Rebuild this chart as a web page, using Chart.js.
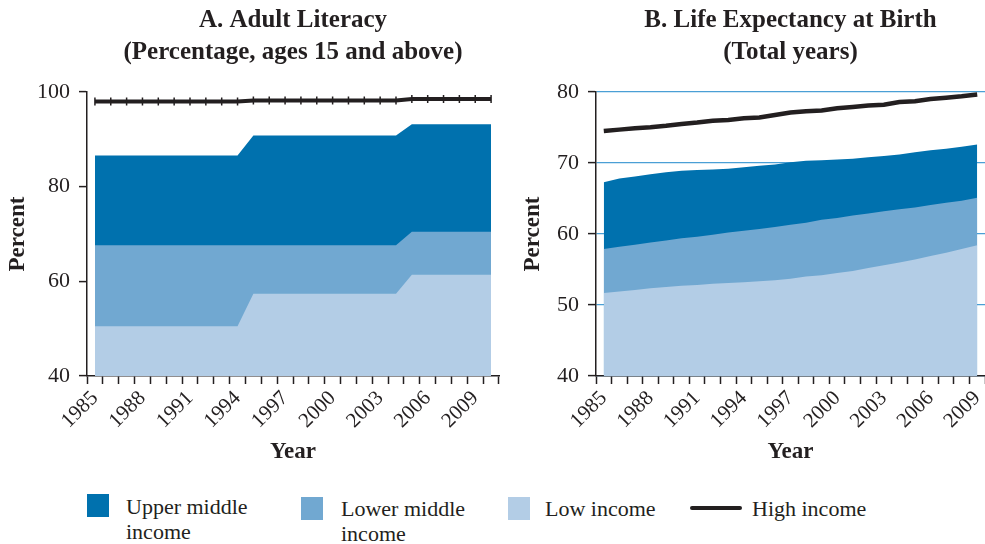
<!DOCTYPE html>
<html><head><meta charset="utf-8">
<script src="https://cdn.jsdelivr.net/npm/chart.js@4.4.1/dist/chart.umd.min.js"></script>
<style>
body{margin:0;background:#fff;width:985px;height:544px;overflow:hidden;position:relative;font-family:'Liberation Serif','Times New Roman',serif;color:#231f20}
#c1{position:absolute;left:0;top:0}
#c2{position:absolute;left:515px;top:0}
.sw{position:absolute;width:22px;height:23px}
.lt{position:absolute;font-size:22px;line-height:25px;white-space:nowrap}
.ln{position:absolute;width:52px;height:4px;background:#231f20;border-radius:2px}
</style></head><body>
<canvas id="c1" width="520" height="470"></canvas>
<canvas id="c2" width="470" height="470"></canvas>

<div class="sw" style="left:87px;top:494px;background:#0071ae"></div>
<div class="lt" style="left:126px;top:494px">Upper middle<br>income</div>
<div class="sw" style="left:301px;top:497px;background:#71a8d1"></div>
<div class="lt" style="left:341px;top:496px">Lower middle<br>income</div>
<div class="sw" style="left:508px;top:497px;background:#b3cde6"></div>
<div class="lt" style="left:545px;top:496px">Low income</div>
<div class="ln" style="left:690px;top:506px"></div>
<div class="lt" style="left:752px;top:496px">High income</div>

<script>
// ---- Panel A: Adult literacy (percent) ----
const yearsA = ['1985','1986','1987','1988','1989','1990','1991','1992','1993','1994','1995','1996','1997','1998','1999','2000','2001','2002','2003','2004','2005','2006','2007','2008','2009','2010'];
const litUpperMiddle = [86.6,86.6,86.6,86.6,86.6,86.6,86.6,86.6,86.6,86.6,90.8,90.8,90.8,90.8,90.8,90.8,90.8,90.8,90.8,90.8,93.2,93.2,93.2,93.2,93.2,93.2];
const litLowerMiddle = [67.6,67.6,67.6,67.6,67.6,67.6,67.6,67.6,67.6,67.6,67.6,67.6,67.6,67.6,67.6,67.6,67.6,67.6,67.6,67.6,70.5,70.5,70.5,70.5,70.5,70.5];
const litLow = [50.5,50.5,50.5,50.5,50.5,50.5,50.5,50.5,50.5,50.5,57.4,57.4,57.4,57.4,57.4,57.4,57.4,57.4,57.4,57.4,61.4,61.4,61.4,61.4,61.4,61.4];
const litHigh = [98.0,98.0,98.0,98.0,98.0,98.0,98.0,98.0,98.0,98.0,98.2,98.2,98.2,98.2,98.2,98.2,98.2,98.2,98.2,98.2,98.5,98.5,98.5,98.5,98.5,98.5];
const ticksA = [40,60,80,100];

// ---- Panel B: Life expectancy (years) ----
const yearsB = ['1985','1986','1987','1988','1989','1990','1991','1992','1993','1994','1995','1996','1997','1998','1999','2000','2001','2002','2003','2004','2005','2006','2007','2008','2009'];
const lifeUpperMiddle = [67.3,67.8,68.1,68.4,68.7,68.9,69.0,69.1,69.2,69.4,69.6,69.8,70.1,70.3,70.4,70.5,70.6,70.8,71.0,71.2,71.5,71.8,72.0,72.3,72.6];
const lifeLowerMiddle = [57.9,58.2,58.5,58.8,59.1,59.4,59.6,59.9,60.2,60.45,60.7,61.0,61.3,61.6,62.0,62.25,62.6,62.9,63.2,63.5,63.75,64.1,64.4,64.7,65.1];
const lifeLow = [51.7,51.9,52.1,52.35,52.55,52.7,52.8,53.0,53.1,53.2,53.35,53.5,53.7,54.0,54.2,54.5,54.8,55.2,55.6,56.0,56.4,56.9,57.35,57.9,58.4];
const lifeHigh = [74.5,74.7,74.9,75.05,75.25,75.5,75.7,75.95,76.05,76.3,76.4,76.75,77.1,77.3,77.4,77.7,77.9,78.1,78.2,78.6,78.7,79.0,79.2,79.4,79.65];
const ticksB = [40,50,60,70,80];

const seriesNames = ['Upper middle income','Lower middle income','Low income','High income'];
const DARK = '#231f20';
const COLORS = ['#0071ae','#71a8d1','#b3cde6'];
const FONT = "'Liberation Serif','Times New Roman',serif";

function areaDs(label, data, color, order){
  return {type:'line', label, data, fill:'start', backgroundColor:color, borderColor:color,
    borderWidth:0, pointRadius:0, tension:0, order};
}

function makeChart(id, labels, sets, ticks, stepSize, title, gridY){
  const ymin = ticks[0], ymax = ticks[ticks.length-1];
  return new Chart(document.getElementById(id), {
    type:'line',
    data:{labels, datasets:sets},
    options:{
      responsive:false, animation:false, devicePixelRatio:1,
      layout:{padding:{left:0,right:id==='c1'?21:0,top:0,bottom:0}},
      plugins:{
        legend:{display:false}, tooltip:{enabled:false},
        title:{display:true, text:title, fullSize:false, color:DARK,
          font:{family:FONT,size:25,weight:'bold',lineHeight:1.26},
          padding:{top:5,bottom:24}}
      },
      scales:{
        x:{type:'category', offset:true,
          grid:{offset:true, drawOnChartArea:false, drawTicks:true, tickLength:8, tickWidth:1.5, tickColor:DARK, color:DARK},
          border:{display:true,color:DARK,width:1.5},
          ticks:{autoSkip:false, maxRotation:45, minRotation:45, color:DARK, padding:2,
            font:{family:FONT,size:21},
            callback:function(v,i){ const l=this.getLabelForValue(v); return ((+l-1985)%3===0)?l:''; }},
          title:{display:true,text:'Year',color:DARK,font:{family:FONT,size:23,weight:'bold'},padding:{top:4,bottom:4}},
          afterFit:(s)=>{s.height=94; s.paddingLeft=0; s.paddingRight=0;}
        },
        y:{min:ymin,max:ymax,
          grid:{drawOnChartArea:gridY, color:gridY?'#4a9fd5':DARK, lineWidth:1.2, drawTicks:true, tickLength:8, tickWidth:1.5, tickColor:DARK},
          border:{display:true,color:DARK,width:1.5},
          ticks:{stepSize, color:DARK, padding:9, font:{family:FONT,size:22}},
          title:{display:true,text:'Percent',color:DARK,font:{family:FONT,size:23,weight:'bold'},padding:{top:4,bottom:4}},
          afterFit:(s)=>{s.width = (id==='c1')?87:81;}
        }
      }
    }
  });
}

makeChart('c1', yearsA, [
  areaDs(seriesNames[0], litUpperMiddle, COLORS[0], 3),
  areaDs(seriesNames[1], litLowerMiddle, COLORS[1], 2),
  areaDs(seriesNames[2], litLow, COLORS[2], 1),
  {type:'line', label:seriesNames[3], data:litHigh, fill:false, borderColor:DARK, borderWidth:4,
   tension:0, pointStyle:'line', pointRotation:90, pointRadius:4, pointBorderWidth:1.5, pointBorderColor:DARK, order:0}
], ticksA, 20, ['A. Adult Literacy','(Percentage, ages 15 and above)'], false);

makeChart('c2', yearsB, [
  areaDs(seriesNames[0], lifeUpperMiddle, COLORS[0], 3),
  areaDs(seriesNames[1], lifeLowerMiddle, COLORS[1], 2),
  areaDs(seriesNames[2], lifeLow, COLORS[2], 1),
  {type:'line', label:seriesNames[3], data:lifeHigh, fill:false, borderColor:DARK, borderWidth:4.5,
   tension:0, pointRadius:0, order:0}
], ticksB, 10, ['B. Life Expectancy at Birth','(Total years)'], true);
</script>
</body></html>
